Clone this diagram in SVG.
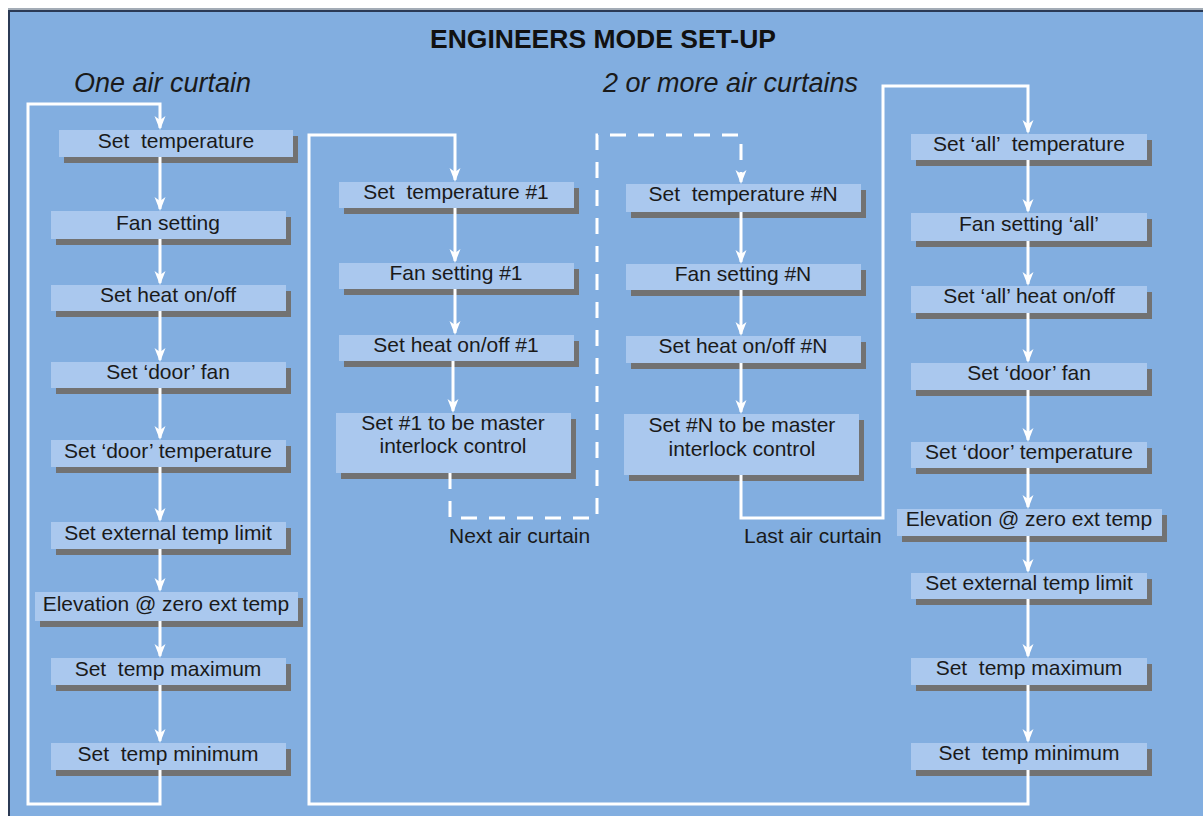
<svg xmlns="http://www.w3.org/2000/svg" width="1203" height="816" viewBox="0 0 1203 816">
<defs>
<style>
.bx{fill:#AAC8EE}
.sh{fill:#727272}
.t{font-family:"Liberation Sans",Arial,sans-serif;font-size:21px;fill:#1a1a1a;text-anchor:middle;white-space:pre}
.lbl{font-family:"Liberation Sans",Arial,sans-serif;font-size:21px;fill:#1a1a1a;white-space:pre}
.hd{font-family:"Liberation Sans",Arial,sans-serif;font-size:27px;font-style:italic;fill:#1a1a1a}
.ttl{font-family:"Liberation Sans",Arial,sans-serif;font-size:26.5px;font-weight:bold;fill:#111;text-anchor:middle}
.c{fill:none;stroke:#ffffff;stroke-width:3}
.d{fill:none;stroke:#ffffff;stroke-width:3;stroke-dasharray:16 12}
</style>
<marker id="ah" markerUnits="userSpaceOnUse" markerWidth="14" markerHeight="12" refX="12" refY="6" orient="auto">
<path d="M0,0.5 L14,6 L0,11.5 L4,6 z" fill="#ffffff"/>
</marker>
</defs>
<rect x="0" y="0" width="1203" height="816" fill="#ffffff"/>
<rect x="8" y="8" width="1200" height="820" fill="#A3ACB6"/>
<rect x="8" y="10" width="1200" height="820" fill="#2B3A55"/>
<rect x="10" y="12" width="1200" height="820" fill="#82AEE0"/>

<text class="ttl" x="603" y="48">ENGINEERS MODE SET-UP</text>
<text class="hd" x="74" y="92">One air curtain</text>
<text class="hd" x="603" y="92">2 or more air curtains</text>

<g id="nodes-left">
<g id="l1"><rect class="sh" x="64" y="136" width="234" height="27"/><rect class="bx" x="59" y="130" width="234" height="27"/><text class="t" x="176" y="148">Set  temperature</text></g>
<g id="l2"><rect class="sh" x="56" y="217" width="235" height="28"/><rect class="bx" x="51" y="211" width="235" height="28"/><text class="t" x="168" y="230">Fan setting</text></g>
<g id="l3"><rect class="sh" x="56" y="291" width="235" height="26"/><rect class="bx" x="51" y="285" width="235" height="26"/><text class="t" x="168" y="302">Set heat on/off</text></g>
<g id="l4"><rect class="sh" x="56" y="368" width="235" height="26"/><rect class="bx" x="51" y="362" width="235" height="26"/><text class="t" x="168" y="379">Set ‘door’ fan</text></g>
<g id="l5"><rect class="sh" x="56" y="446" width="235" height="27"/><rect class="bx" x="51" y="440" width="235" height="27"/><text class="t" x="168" y="458">Set ‘door’ temperature</text></g>
<g id="l6"><rect class="sh" x="56" y="528" width="235" height="27"/><rect class="bx" x="51" y="522" width="235" height="27"/><text class="t" x="168" y="540">Set external temp limit</text></g>
<g id="l7"><rect class="sh" x="40" y="598" width="263" height="29"/><rect class="bx" x="35" y="592" width="263" height="29"/><text class="t" x="166" y="611">Elevation @ zero ext temp</text></g>
<g id="l8"><rect class="sh" x="56" y="664" width="235" height="27"/><rect class="bx" x="51" y="658" width="235" height="27"/><text class="t" x="168" y="676">Set  temp maximum</text></g>
<g id="l9"><rect class="sh" x="56" y="749" width="235" height="27"/><rect class="bx" x="51" y="743" width="235" height="27"/><text class="t" x="168" y="761">Set  temp minimum</text></g>
</g>

<g id="nodes-first">
<g id="m1"><rect class="sh" x="344" y="188" width="235" height="26"/><rect class="bx" x="339" y="182" width="235" height="26"/><text class="t" x="456" y="199">Set  temperature #1</text></g>
<g id="m2"><rect class="sh" x="344" y="269" width="235" height="26"/><rect class="bx" x="339" y="263" width="235" height="26"/><text class="t" x="456" y="280">Fan setting #1</text></g>
<g id="m3"><rect class="sh" x="344" y="341" width="235" height="26"/><rect class="bx" x="339" y="335" width="235" height="26"/><text class="t" x="456" y="352">Set heat on/off #1</text></g>
<g id="m4"><rect class="sh" x="341" y="419" width="235" height="60"/><rect class="bx" x="336" y="413" width="235" height="60"/><text class="t" x="453" y="430">Set #1 to be master</text><text class="t" x="453" y="453">interlock control</text></g>
</g>

<g id="nodes-n">
<g id="n1"><rect class="sh" x="631" y="190" width="235" height="28"/><rect class="bx" x="626" y="184" width="235" height="28"/><text class="t" x="743" y="201">Set  temperature #N</text></g>
<g id="n2"><rect class="sh" x="631" y="270" width="235" height="26"/><rect class="bx" x="626" y="264" width="235" height="26"/><text class="t" x="743" y="281">Fan setting #N</text></g>
<g id="n3"><rect class="sh" x="631" y="342" width="235" height="27"/><rect class="bx" x="626" y="336" width="235" height="27"/><text class="t" x="743" y="353">Set heat on/off #N</text></g>
<g id="n4"><rect class="sh" x="629" y="420" width="235" height="61"/><rect class="bx" x="624" y="414" width="235" height="61"/><text class="t" x="742" y="432">Set #N to be master</text><text class="t" x="742" y="456">interlock control</text></g>
</g>

<g id="nodes-all">
<g id="r1"><rect class="sh" x="916" y="140" width="236" height="26"/><rect class="bx" x="911" y="134" width="236" height="26"/><text class="t" x="1029" y="151">Set ‘all’  temperature</text></g>
<g id="r2"><rect class="sh" x="916" y="219" width="236" height="28"/><rect class="bx" x="911" y="213" width="236" height="28"/><text class="t" x="1029" y="231">Fan setting ‘all’</text></g>
<g id="r3"><rect class="sh" x="916" y="292" width="236" height="27"/><rect class="bx" x="911" y="286" width="236" height="27"/><text class="t" x="1029" y="303">Set ‘all’ heat on/off</text></g>
<g id="r4"><rect class="sh" x="916" y="369" width="236" height="27"/><rect class="bx" x="911" y="363" width="236" height="27"/><text class="t" x="1029" y="380">Set ‘door’ fan</text></g>
<g id="r5"><rect class="sh" x="916" y="448" width="236" height="26"/><rect class="bx" x="911" y="442" width="236" height="26"/><text class="t" x="1029" y="459">Set ‘door’ temperature</text></g>
<g id="r6"><rect class="sh" x="902" y="515" width="265" height="27"/><rect class="bx" x="897" y="509" width="265" height="27"/><text class="t" x="1029" y="526">Elevation @ zero ext temp</text></g>
<g id="r7"><rect class="sh" x="916" y="579" width="236" height="26"/><rect class="bx" x="911" y="573" width="236" height="26"/><text class="t" x="1029" y="590">Set external temp limit</text></g>
<g id="r8"><rect class="sh" x="916" y="664" width="236" height="27"/><rect class="bx" x="911" y="658" width="236" height="27"/><text class="t" x="1029" y="675">Set  temp maximum</text></g>
<g id="r9"><rect class="sh" x="916" y="749" width="236" height="27"/><rect class="bx" x="911" y="743" width="236" height="27"/><text class="t" x="1029" y="760">Set  temp minimum</text></g>
</g>

<g id="connectors">
<path class="c" d="M160,770 V804 H28 V104 H160 V128" marker-end="url(#ah)"/>
<path class="c" d="M160,157 V209" marker-end="url(#ah)"/>
<path class="c" d="M160,239 V283" marker-end="url(#ah)"/>
<path class="c" d="M160,311 V360" marker-end="url(#ah)"/>
<path class="c" d="M160,388 V438" marker-end="url(#ah)"/>
<path class="c" d="M160,467 V520" marker-end="url(#ah)"/>
<path class="c" d="M160,549 V590" marker-end="url(#ah)"/>
<path class="c" d="M160,621 V656" marker-end="url(#ah)"/>
<path class="c" d="M160,685 V741" marker-end="url(#ah)"/>

<path class="c" d="M1028,770 V804 H309 V135 H455 V180" marker-end="url(#ah)"/>
<path class="c" d="M455,208 V261" marker-end="url(#ah)"/>
<path class="c" d="M455,289 V333" marker-end="url(#ah)"/>
<path class="c" d="M453,361 V411" marker-end="url(#ah)"/>

<path class="d" d="M450,473 V518 H597 V135 H741 V182" marker-end="url(#ah)"/>

<path class="c" d="M741,212 V262" marker-end="url(#ah)"/>
<path class="c" d="M741,290 V334" marker-end="url(#ah)"/>
<path class="c" d="M741,363 V412" marker-end="url(#ah)"/>
<path class="c" d="M741,475 V518 H883 V86 H1028 V132" marker-end="url(#ah)"/>

<path class="c" d="M1028,160 V211" marker-end="url(#ah)"/>
<path class="c" d="M1028,241 V284" marker-end="url(#ah)"/>
<path class="c" d="M1028,313 V361" marker-end="url(#ah)"/>
<path class="c" d="M1028,390 V440" marker-end="url(#ah)"/>
<path class="c" d="M1028,468 V507" marker-end="url(#ah)"/>
<path class="c" d="M1028,536 V571" marker-end="url(#ah)"/>
<path class="c" d="M1028,599 V656" marker-end="url(#ah)"/>
<path class="c" d="M1028,685 V741" marker-end="url(#ah)"/>

<text class="lbl" x="449" y="543">Next air curtain</text>
<text class="lbl" x="744" y="543">Last air curtain</text>
</g>
</svg>
